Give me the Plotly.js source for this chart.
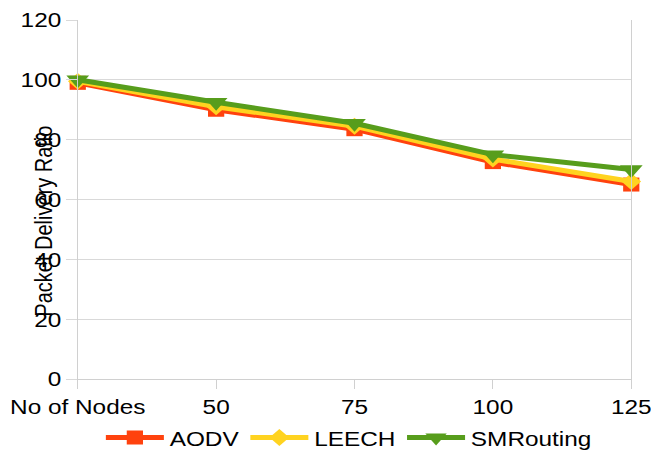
<!DOCTYPE html>
<html>
<head>
<meta charset="utf-8">
<script src="https://cdn.plot.ly/plotly-3.0.1.min.js"></script>
<style>
html,body{margin:0;padding:0;background:#fff;overflow:hidden;}
#wrap{width:651px;height:450px;overflow:hidden;}
#chart{width:561px;height:450px;transform:scaleX(1.1604);transform-origin:0 0;}
</style>
</head>
<body>
<div id="wrap"><div id="chart"></div></div>
<script>
var categories = ["No of Nodes", "50", "75", "100", "125"];
var aodv = [99, 90, 83.5, 72.5, 65];
var leech = [99.5, 91, 84.5, 73.5, 66];
var smrouting = [100, 92.5, 85.5, 75, 70];
var yTicks = [0, 20, 40, 60, 80, 100, 120];

var fontFam = '"Liberation Sans", Arial, sans-serif';

var traces = [
  {x: categories, y: aodv, name: "AODV", type: "scatter", mode: "lines+markers",
   cliponaxis: false,
   line: {color: "#ff420e", width: 5},
   marker: {symbol: "square", size: 14, color: "#ff420e"}},
  {x: categories, y: leech, name: "LEECH", type: "scatter", mode: "lines+markers",
   cliponaxis: false,
   line: {color: "#ffd320", width: 5},
   marker: {symbol: "diamond", size: 13, color: "#ffd320"}},
  {x: categories, y: smrouting, name: "SMRouting", type: "scatter", mode: "lines+markers",
   cliponaxis: false,
   line: {color: "#579d1c", width: 5},
   marker: {symbol: "triangle-down", size: 17, color: "#579d1c"}}
];

var layout = {
  width: 561, height: 450,
  margin: {l: 67, r: 17, t: 20, b: 71},
  paper_bgcolor: "#fff", plot_bgcolor: "#fff",
  font: {family: fontFam, size: 21, color: "#000"},
  showlegend: true,
  legend: {orientation: "h", x: 0.49, xanchor: "center",
           yref: "container", y: 0.027, yanchor: "middle", itemwidth: 50,
           font: {family: fontFam, size: 21, color: "#000"}, traceorder: "normal"},
  xaxis: {type: "category", range: [0, 4], showgrid: false, zeroline: false,
          showline: true, linecolor: "#d0d0d0", linewidth: 1,
          ticks: "outside", ticklen: 9, tickcolor: "#d0d0d0",
          tickfont: {family: fontFam, size: 21, color: "#000"}, fixedrange: true},
  yaxis: {range: [0, 120], tickvals: yTicks, ticktext: yTicks.map(String),
          showgrid: true, gridcolor: "#d9d9d9", zeroline: false,
          showline: true, mirror: true, linecolor: "#d0d0d0", linewidth: 1,
          ticks: "outside", ticklen: 9, tickcolor: "#d9d9d9",
          tickfont: {family: fontFam, size: 21, color: "#000"}, fixedrange: true},
  annotations: [{
    text: "Packet Delivery Ratio", textangle: -90, showarrow: false,
    xref: "paper", yref: "paper", x: -0.0615, y: 0.44,
    xanchor: "center", yanchor: "middle",
    font: {family: fontFam, size: 20, color: "#000"}
  }]
};

Plotly.newPlot("chart", traces, layout, {displayModeBar: false, staticPlot: true});
</script>
</body>
</html>
